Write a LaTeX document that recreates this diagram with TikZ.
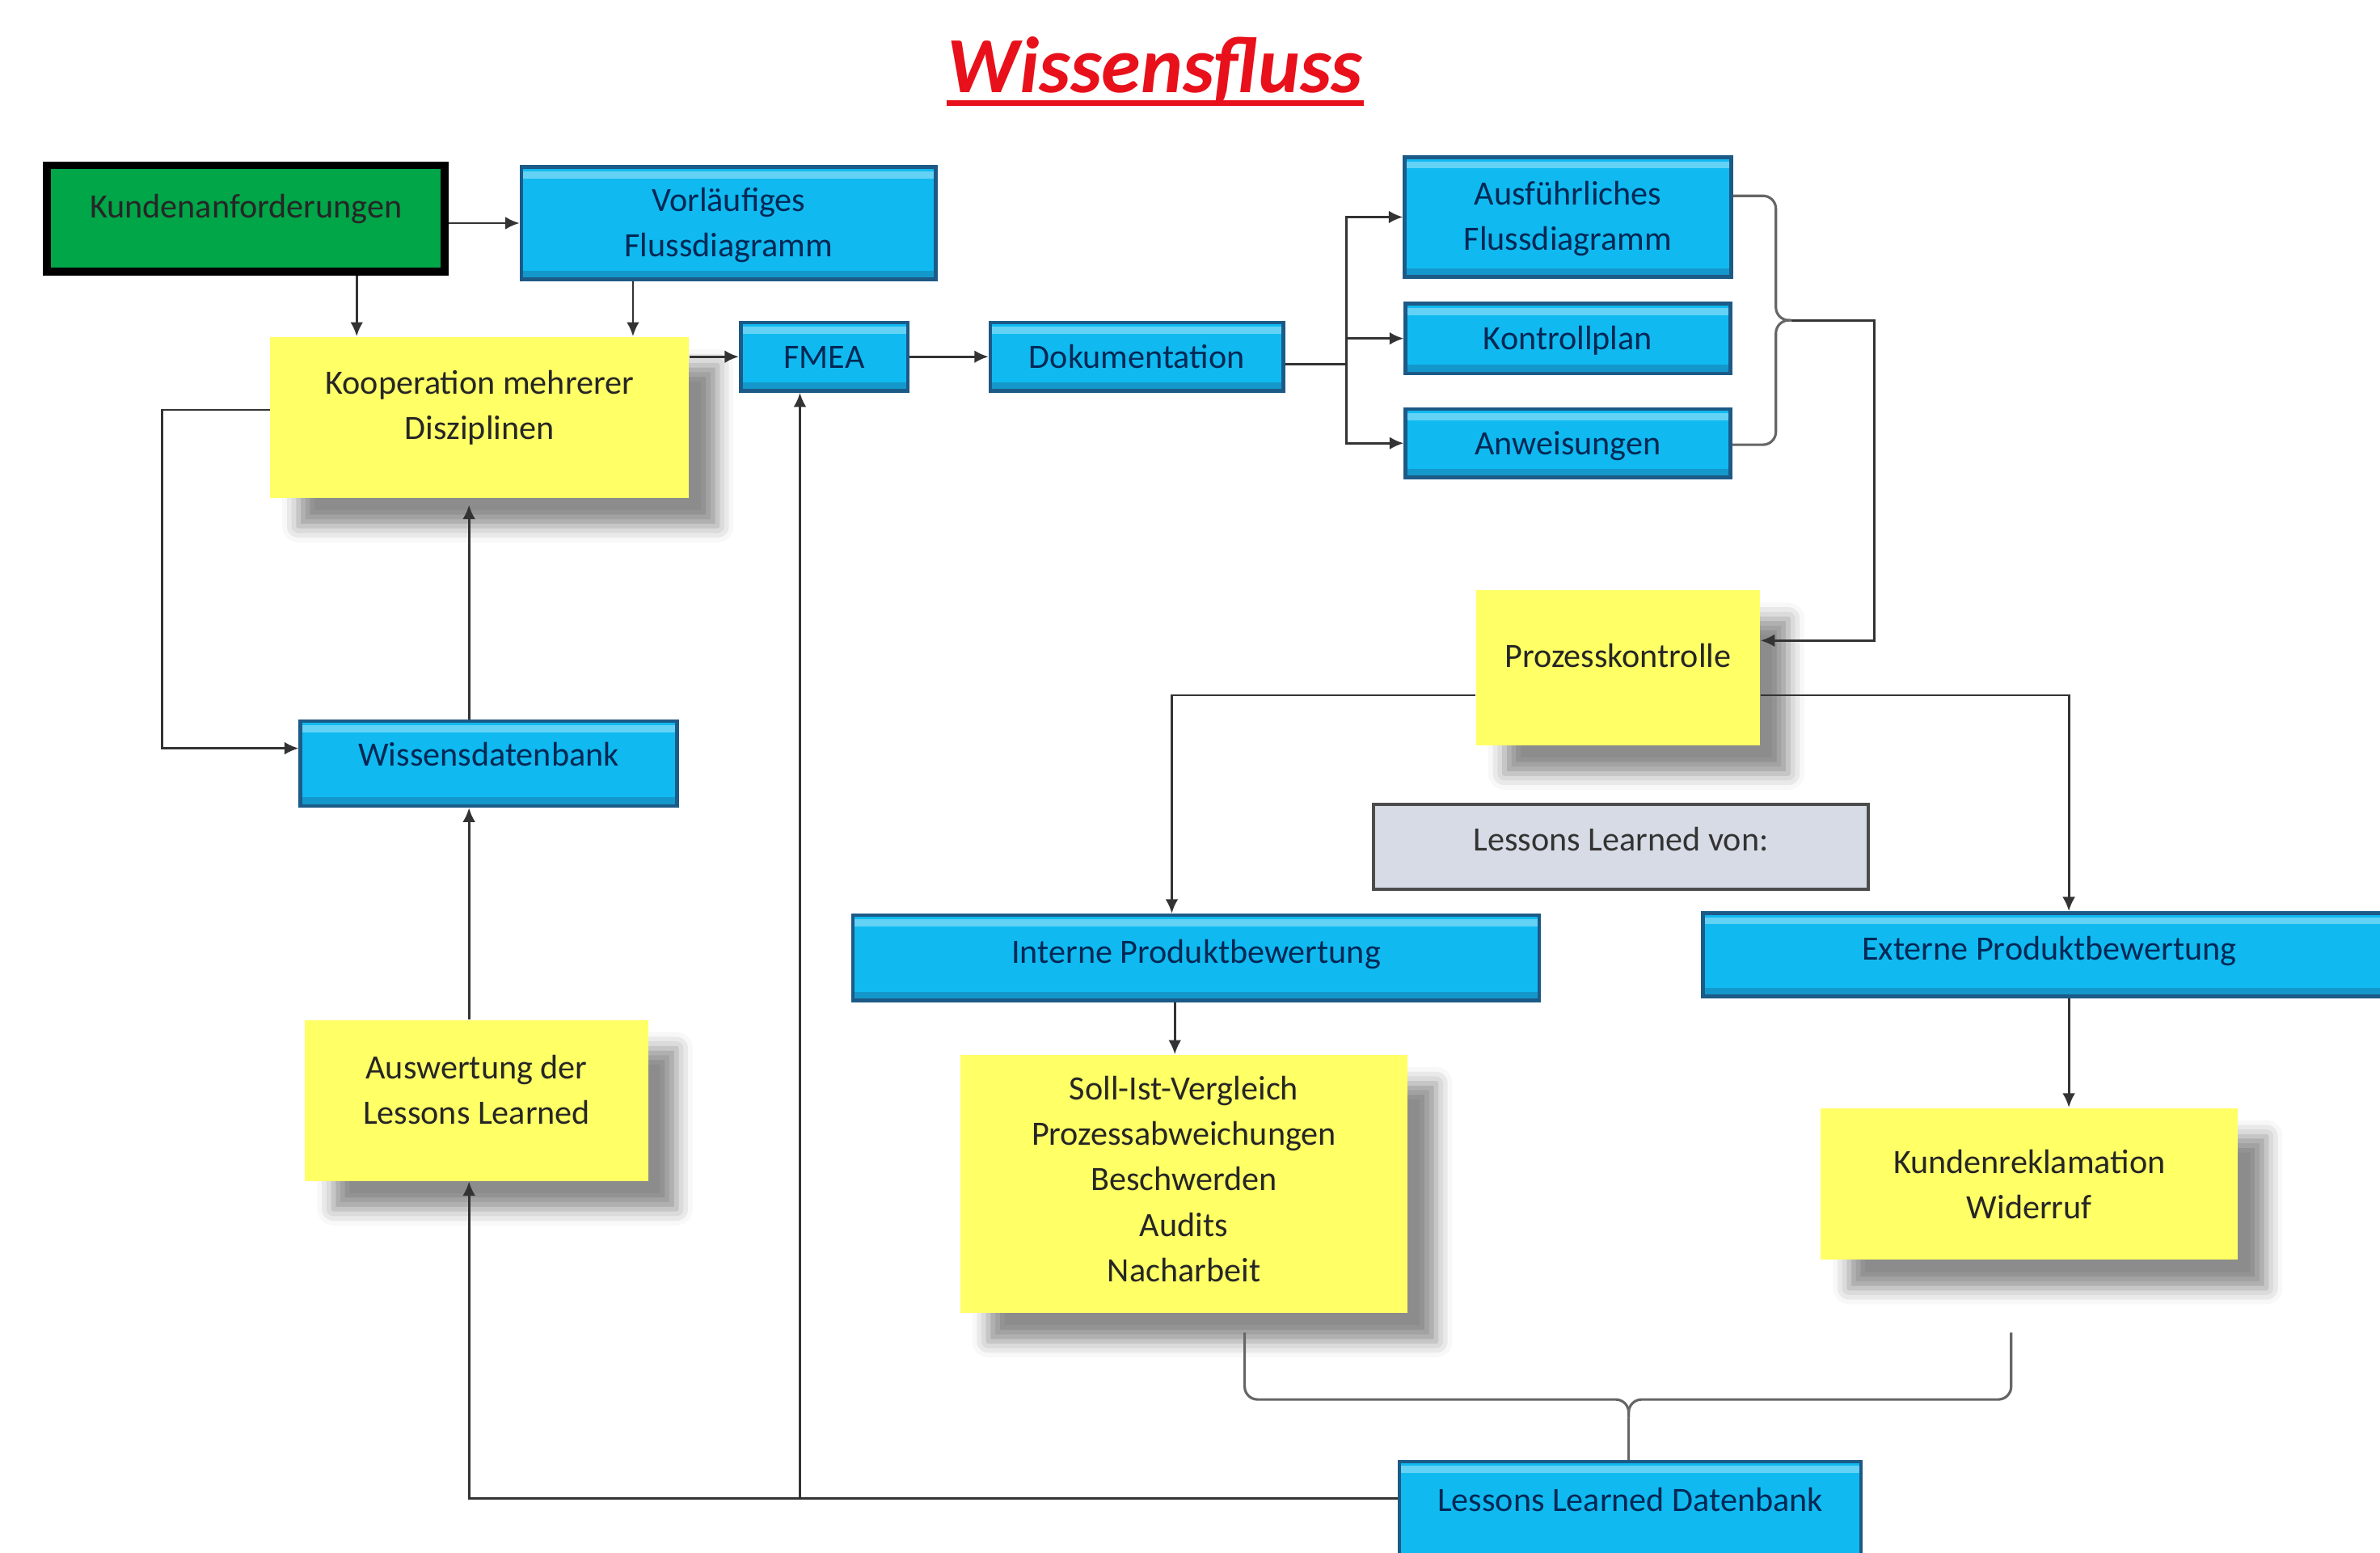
\documentclass[tikz,border=0pt]{standalone}
\usepackage{fontspec}
\setmainfont{Carlito}
\usepackage{tikz}
\usetikzlibrary{arrows.meta,shadows,shadows.blur}

\definecolor{boxblue}{RGB}{16,186,240}
\definecolor{blueedge}{RGB}{28,90,135}
\definecolor{bluetext}{RGB}{0,40,85}
\definecolor{boxyellow}{RGB}{255,255,102}
\definecolor{boxgreen}{RGB}{0,166,72}
\definecolor{boxgray}{RGB}{214,219,229}
\definecolor{titlered}{RGB}{232,16,26}

\newlength{\pxu}
\setlength{\pxu}{0.18776mm}

\tikzset{
  boxtext/.style={rectangle, font=\fontsize{12}{16}\selectfont, align=center, inner sep=0pt},
  oneline/.style={text height=11pt, text depth=#1},
  oneline/.default=3pt,
  bluebox/.style={boxtext, draw=blueedge, line width=1.3pt, fill=boxblue, text=bluetext,
    path picture={
      \fill [white, opacity=0.35] ([yshift=-1.5pt]path picture bounding box.north west) rectangle ([yshift=-4pt]path picture bounding box.north east);
      \fill [blueedge, opacity=0.35] (path picture bounding box.south west) rectangle ([yshift=3pt]path picture bounding box.south east);
    }},
  yellowbox/.style={boxtext, fill=boxyellow, text=black!85,
    blur shadow={shadow xshift=3.5mm, shadow yshift=-3.5mm, shadow blur radius=2mm, shadow opacity=45}},
  greenbox/.style={boxtext, draw=black, line width=2.7pt, fill=boxgreen, text=black!85},
  graybox/.style={boxtext, draw=black!70, line width=1.2pt, fill=boxgray, text=black!80},
  flow/.style={draw=black!80, line width=0.8pt},
  bracket/.style={draw=black!60, line width=0.9pt, rounded corners=1.6mm},
  heading/.style={font=\fontsize{28}{33}\selectfont\bfseries\itshape, text=titlered, inner sep=0pt},
}

\begin{document}
\begin{tikzpicture}[x=0.18776mm, y=-0.18776mm, >={Latex[length=5pt,width=4.5pt]}]
\useasboundingbox (0,0) rectangle (1568,1023);

% Titel
\node [heading, anchor=base] (title) at (761,61) {Wissensfluss};
\draw [titlered, line width=2.2pt] ([yshift=-3.7pt]title.base west) -- ([yshift=-3.7pt]title.base east);

% Kaestchen
\node [greenbox, oneline=11.5pt, minimum width=262\pxu, minimum height=70\pxu] (kunden) at (162,144) {Kundenanforderungen};
\node [bluebox, text depth=0.8pt, minimum width=273\pxu, minimum height=74\pxu] (vorl) at (480,147) {Vorläufiges\\Flussdiagramm};
\node [yellowbox, text depth=8.8pt, minimum width=276\pxu, minimum height=106\pxu] (koop) at (316,275) {Kooperation mehrerer\\Disziplinen};
\node [bluebox, oneline, minimum width=110\pxu, minimum height=45\pxu] (fmea) at (543,235) {FMEA};
\node [bluebox, oneline, minimum width=193\pxu, minimum height=45\pxu] (doku) at (749,235) {Dokumentation};
\node [bluebox, text depth=0.8pt, minimum width=215\pxu, minimum height=79\pxu] (ausf) at (1033,143) {Ausführliches\\Flussdiagramm};
\node [bluebox, oneline, minimum width=214\pxu, minimum height=46\pxu] (kontr) at (1033,223) {Kontrollplan};
\node [bluebox, oneline, minimum width=214\pxu, minimum height=45\pxu] (anw) at (1033,292) {Anweisungen};
\node [yellowbox, oneline=11.5pt, minimum width=187\pxu, minimum height=102\pxu] (prozess) at (1066,440) {Prozesskontrolle};
\node [bluebox, oneline=9.4pt, minimum width=248\pxu, minimum height=56\pxu] (wissdb) at (322,503) {Wissensdatenbank};
\node [graybox, oneline=8.3pt, minimum width=326\pxu, minimum height=56\pxu] (llvon) at (1068,558) {Lessons Learned von:};
\node [bluebox, oneline=7.3pt, minimum width=452\pxu, minimum height=56\pxu] (intern) at (788,631) {Interne Produktbewertung};
\node [bluebox, oneline=7.3pt, minimum width=456\pxu, minimum height=55\pxu] (extern) at (1350,629) {Externe Produktbewertung};
\node [yellowbox, text depth=7.8pt, minimum width=226\pxu, minimum height=106\pxu] (ausw) at (314,725) {Auswertung der\\Lessons Learned};
\node [yellowbox, text depth=3.5pt, minimum width=295\pxu, minimum height=170\pxu] (soll) at (780,780) {Soll-Ist-Vergleich\\Prozessabweichungen\\Beschwerden\\Audits\\Nacharbeit};
\node [yellowbox, text depth=-2.5pt, minimum width=275\pxu, minimum height=100\pxu] (kundrek) at (1337,780) {Kundenreklamation\\Widerruf};
\node [bluebox, oneline=13.6pt, minimum width=304\pxu, minimum height=70\pxu] (lldb) at (1074,998) {Lessons Learned Datenbank};

% Pfeile oben
\draw [flow, ->] (kunden.east |- vorl.west) -- (vorl.west);
\draw [flow, ->] (kunden.south -| 235,0) -- (koop.north -| 235,0);
\draw [flow, ->] (vorl.south -| 417,0) -- (koop.north -| 417,0);
\draw [flow, ->] (koop.east |- fmea.west) -- (fmea.west);
\draw [flow, ->] (fmea) -- (doku);
\coordinate (fork) at (887,240);
\draw [flow] (doku.east |- fork) -- (fork);
\draw [flow, ->] (fork) |- (ausf.west);
\draw [flow, ->] (fork) |- (kontr.west);
\draw [flow, ->] (fork) |- (anw.west);

% Klammer rechts
\coordinate (rtip) at (1180,211);
\draw [bracket] (ausf.east |- 0,129) -- (1170,129) -- (1170,211) -- (rtip);
\draw [bracket] (anw.east |- 0,293) -- (1170,293) -- (1170,211) -- (rtip);
\draw [flow, ->] (rtip) -| (1235,422) -- (prozess.east |- 0,422);

% Wissensdatenbank
\draw [flow, ->] (koop.west |- 0,270) -| (107,493) -- (wissdb.west |- 0,493);
\draw [flow, ->, shorten >=0.8mm] (wissdb.north -| 309,0) -- (koop.south -| 309,0);
\draw [flow, ->] (ausw.north -| 309,0) -- (wissdb.south -| 309,0);
\draw [flow, ->] (lldb.west |- 0,987) -| (ausw.south -| 309,0);
\draw [flow, ->] (lldb.west |- 0,987) -| (fmea.south -| 527,0);

% Prozesskontrolle
\draw [flow, ->] (prozess.west |- 0,458) -| (intern.north -| 772,0);
\draw [flow, ->] (prozess.east |- 0,458) -| (extern.north -| 1363,0);
\draw [flow, ->] (intern.south -| 774,0) -- (soll.north -| 774,0);
\draw [flow, ->] (extern.south -| 1363,0) -- (kundrek.north -| 1363,0);

% Klammer unten
\coordinate (btip) at (1073,934);
\draw [bracket] (820,878) -- (820,922) -- (1073,922) -- (btip);
\draw [bracket] (1325,878) -- (1325,922) -- (1073,922) -- (btip);
\draw [bracket] (btip) -- (lldb.north -| btip);
\end{tikzpicture}
\end{document}
